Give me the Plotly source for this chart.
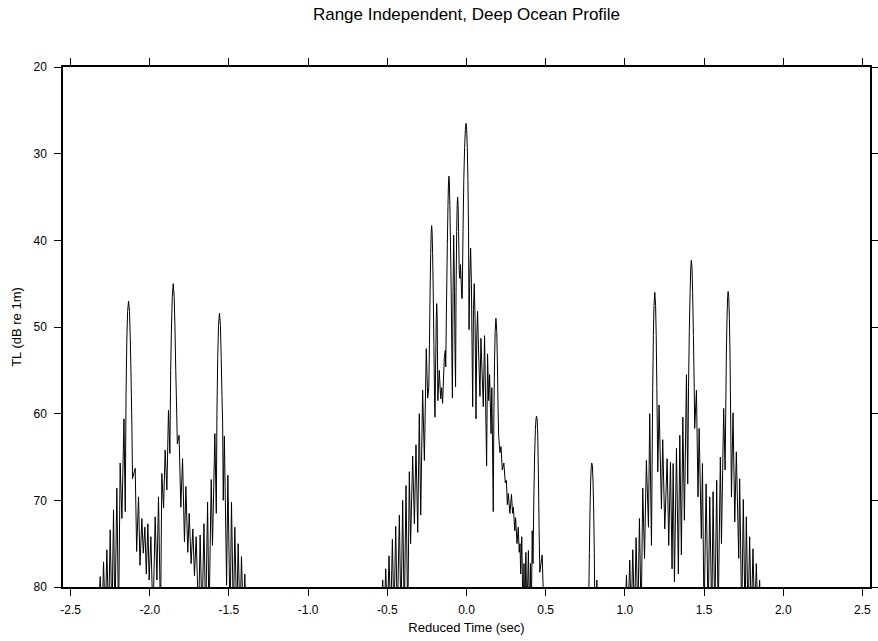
import plotly.graph_objects as go

# ---- data (reduced time in s, TL in dB re 1m) ----
# left arrival group
c1_t = [-2.326, -2.313, -2.302, -2.292, -2.281, -2.271, -2.260, -2.250, -2.239, -2.229,
        -2.220, -2.208, -2.197, -2.187, -2.176, -2.163, -2.155, -2.150, -2.145, -2.140,
        -2.134, -2.128, -2.123, -2.118, -2.113, -2.109, -2.092, -2.083, -2.071, -2.062,
        -2.050, -2.041, -2.031, -2.022, -2.012, -2.004, -1.993, -1.980, -1.966, -1.955,
        -1.945, -1.932, -1.924, -1.913, -1.903, -1.892, -1.882, -1.873, -1.868, -1.863,
        -1.858, -1.852, -1.846, -1.841, -1.836, -1.830, -1.826, -1.815, -1.804, -1.793,
        -1.781, -1.772, -1.760, -1.751, -1.739, -1.728, -1.718, -1.707, -1.692, -1.682,
        -1.670, -1.658, -1.647, -1.635, -1.626, -1.612, -1.604, -1.589, -1.580, -1.576,
        -1.571, -1.566, -1.560, -1.554, -1.549, -1.544, -1.540, -1.536, -1.529, -1.515,
        -1.507, -1.493, -1.484, -1.472, -1.463, -1.451, -1.442, -1.430, -1.421, -1.409,
        -1.400, -1.392]
c1_tl = [84, 78.8, 84, 77.1, 84, 75.7, 84, 73.4, 84, 71.1,
         84, 68.6, 84, 65.7, 72.1, 60.6, 71.3, 58.0, 51.5, 48.2,
         47.0, 48.2, 51.5, 56.0, 61.3, 67.5, 66.3, 75.9, 69.6, 77.5,
         72.1, 76.1, 73.1, 78.5, 72.7, 79.2, 74.2, 84, 71.9, 79.2,
         69.6, 84, 66.9, 70.9, 64.2, 68.8, 59.6, 64.6, 55.0, 50.0,
         46.5, 45.0, 46.5, 50.0, 55.0, 59.8, 63.5, 62.5, 70.8, 65.2,
         74.8, 68.4, 76.0, 71.5, 77.3, 73.3, 78.7, 74.2, 84, 74.0,
         84, 72.7, 84, 70.2, 84, 67.6, 75.2, 62.3, 71.5, 60.0,
         53.5, 49.8, 48.4, 49.8, 53.5, 58.0, 61.0, 70.0, 62.6, 79.8,
         67.1, 84, 70.2, 84, 73.1, 84, 75.0, 84, 76.5, 84,
         78.5, 84]

# central arrival group
c2_t = [-0.540, -0.529, -0.521, -0.510, -0.500, -0.489, -0.479, -0.468, -0.458, -0.447,
        -0.437, -0.424, -0.414, -0.403, -0.393, -0.382, -0.371, -0.361, -0.353, -0.340,
        -0.329, -0.319, -0.308, -0.298, -0.289, -0.277, -0.266, -0.254, -0.245, -0.238,
        -0.234, -0.230, -0.226, -0.223, -0.220, -0.217, -0.214, -0.210, -0.206, -0.202,
        -0.199, -0.191, -0.188, -0.185, -0.181, -0.172, -0.163, -0.157, -0.151, -0.140,
        -0.134, -0.131, -0.126, -0.121, -0.117, -0.114, -0.111, -0.108, -0.105, -0.101,
        -0.096, -0.092, -0.089, -0.085, -0.081, -0.077, -0.073, -0.069, -0.066, -0.062,
        -0.059, -0.056, -0.053, -0.050, -0.046, -0.042, -0.038, -0.035, -0.030, -0.027,
        -0.022, -0.017, -0.012, -0.007, -0.003, 0.001, 0.005, 0.009, 0.013, 0.016,
        0.021, 0.026, 0.031, 0.039, 0.044, 0.049, 0.054, 0.060, 0.065, 0.070,
        0.075, 0.085, 0.091, 0.106, 0.114, 0.127, 0.133, 0.140, 0.146, 0.155,
        0.160, 0.169, 0.173, 0.177, 0.181, 0.186, 0.191, 0.195, 0.199, 0.203,
        0.211, 0.218, 0.226, 0.236, 0.245, 0.252, 0.258, 0.264, 0.274, 0.284,
        0.291, 0.296, 0.305, 0.310, 0.319, 0.327, 0.333, 0.338, 0.342, 0.349,
        0.357, 0.363, 0.368, 0.375, 0.381, 0.391, 0.398, 0.404, 0.409, 0.415,
        0.420, 0.425, 0.430, 0.435, 0.439, 0.442, 0.446, 0.450, 0.454, 0.459,
        0.463, 0.478, 0.490]
c2_tl = [84, 79.2, 84, 77.9, 84, 76.4, 84, 74.5, 84, 73.0,
         84, 71.7, 84, 70.0, 84, 68.3, 84, 66.7, 75.0, 64.9,
         72.7, 63.6, 73.7, 60.0, 71.7, 57.3, 65.4, 52.5, 58.2, 57.0,
         52.0, 46.0, 41.5, 39.1, 38.3, 39.1, 41.5, 46.0, 52.0, 58.0,
         60.4, 49.0, 47.3, 49.0, 58.5, 55.0, 58.3, 57.0, 58.8, 53.5,
         52.7, 54.6, 47.0, 40.5, 36.0, 33.5, 32.6, 33.5, 36.0, 40.5,
         47.0, 54.0, 58.2, 46.0, 39.4, 44.0, 52.0, 56.9, 46.0, 39.0,
         36.0, 35.0, 36.0, 39.0, 43.5, 44.4, 42.8, 44.0, 46.7, 46.7,
         39.0, 33.0, 29.3, 27.2, 26.5, 27.2, 29.3, 33.0, 39.0, 50.3,
         44.0, 40.9, 45.0, 59.2, 48.0, 45.0, 49.0, 60.6, 51.0, 48.2,
         52.0, 58.0, 51.3, 59.2, 51.0, 66.0, 53.1, 58.5, 55.5, 62.3,
         57.0, 71.3, 60.0, 54.0, 50.5, 49.0, 50.5, 54.0, 59.0, 62.5,
         64.5, 63.8, 66.5, 65.7, 68.0, 67.7, 70.5, 69.2, 71.5, 69.3,
         71.5, 70.8, 73.5, 72.0, 75.0, 73.1, 76.0, 75.0, 78.5, 74.2,
         84, 77.3, 84, 76.0, 84, 75.8, 84, 77.3, 84, 73.5,
         77.3, 70.0, 65.0, 61.8, 60.6, 60.3, 60.6, 62.5, 67.0, 74.0,
         78.3, 76.3, 84]

# isolated late arrival
c3_t = [0.770, 0.776, 0.780, 0.784, 0.788, 0.791, 0.795, 0.799, 0.803, 0.807,
        0.811, 0.818, 0.823, 0.828]
c3_tl = [84, 76.0, 71.0, 67.8, 66.0, 65.7, 66.0, 67.8, 71.0, 76.0,
         84, 84, 79.2, 84]

# right arrival group
c4_t = [1.000, 1.010, 1.019, 1.031, 1.040, 1.050, 1.061, 1.071, 1.082, 1.092,
        1.103, 1.113, 1.124, 1.136, 1.149, 1.157, 1.168, 1.172, 1.176, 1.180,
        1.184, 1.189, 1.194, 1.198, 1.202, 1.205, 1.208, 1.216, 1.231, 1.239,
        1.252, 1.267, 1.277, 1.288, 1.298, 1.305, 1.313, 1.326, 1.338, 1.347,
        1.357, 1.366, 1.376, 1.389, 1.397, 1.402, 1.407, 1.412, 1.416, 1.420,
        1.424, 1.428, 1.433, 1.438, 1.441, 1.452, 1.462, 1.469, 1.483, 1.490,
        1.500, 1.513, 1.526, 1.536, 1.549, 1.557, 1.568, 1.580, 1.589, 1.603,
        1.610, 1.624, 1.633, 1.637, 1.641, 1.645, 1.649, 1.652, 1.656, 1.660,
        1.664, 1.668, 1.673, 1.683, 1.694, 1.704, 1.719, 1.725, 1.738, 1.748,
        1.759, 1.767, 1.778, 1.788, 1.799, 1.809, 1.820, 1.830, 1.841, 1.851,
        1.860]
c4_tl = [84, 78.65, 84, 76.9, 84, 75.7, 84, 74.3, 84, 72.1,
         84, 68.6, 76.7, 65.4, 73.1, 60.0, 75.2, 66.0, 57.0, 51.0,
         47.5, 46.0, 47.5, 51.0, 57.0, 62.0, 66.7, 59.0, 71.0, 63.0,
         73.3, 65.2, 75.2, 65.6, 77.9, 65.75, 79.4, 64.0, 78.5, 62.5,
         76.3, 60.4, 72.3, 55.5, 68.1, 57.0, 50.5, 46.0, 43.2, 42.3,
         43.2, 46.0, 51.0, 57.0, 61.7, 57.3, 69.6, 61.7, 74.4, 65.75,
         84, 68.1, 84, 69.6, 84, 69.0, 84, 67.7, 84, 65.0,
         75.0, 59.4, 66.5, 60.0, 53.0, 49.0, 46.5, 45.9, 46.5, 49.0,
         53.0, 60.0, 69.6, 59.9, 72.5, 64.4, 76.7, 67.5, 84, 69.9,
         84, 71.9, 84, 74.2, 84, 75.6, 84, 77.3, 84, 79.2,
         84]

x_tickvals = [-2.5, -2.0, -1.5, -1.0, -0.5, 0.0, 0.5, 1.0, 1.5, 2.0, 2.5]
x_ticktext = ["-2.5", "-2.0", "-1.5", "-1.0", "-0.5", "0.0", "0.5", "1.0", "1.5", "2.0", "2.5"]
y_tickvals = [20, 30, 40, 50, 60, 70, 80]

title_text = "Range Independent, Deep Ocean Profile"
x_title = "Reduced Time (sec)"
y_title = "TL (dB re 1m)"

# ---- figure ----
t_all = c1_t + c2_t + c3_t + c4_t
tl_all = c1_tl + c2_tl + c3_tl + c4_tl

FONT = "Liberation Sans, Arial, Helvetica, sans-serif"

fig = go.Figure()
fig.add_trace(go.Scatter(
    x=t_all, y=tl_all, mode="lines",
    line=dict(color="black", width=1, simplify=False),
    hoverinfo="skip", showlegend=False,
))

axis_common = dict(
    showline=True, linecolor="black", linewidth=1.5,
    mirror="allticks", ticks="outside", ticklen=7, tickwidth=1, tickcolor="black",
    showgrid=False, zeroline=False,
    tickfont=dict(family=FONT, size=12, color="black"),
)

fig.update_layout(
    width=878, height=641,
    margin=dict(l=63, r=8, t=67, b=54, autoexpand=False),
    paper_bgcolor="white", plot_bgcolor="white",
    font=dict(family=FONT, color="black"),
    title=dict(text=title_text, x=0.5, xref="paper", xanchor="center",
               y=1 - 14 / 641, yref="container", yanchor="middle",
               font=dict(family=FONT, size=17, color="black")),
    xaxis=dict(range=[-2.548, 2.548], tickvals=x_tickvals, ticktext=x_ticktext,
               ticklabelstandoff=4,
               title=dict(text=x_title, font=dict(family=FONT, size=13), standoff=7),
               **axis_common),
    yaxis=dict(range=[80, 20], tickvals=y_tickvals, ticklabelstandoff=5,
               title=dict(text=y_title, font=dict(family=FONT, size=13), standoff=9),
               **axis_common),
)

fig.write_html("out.html")
